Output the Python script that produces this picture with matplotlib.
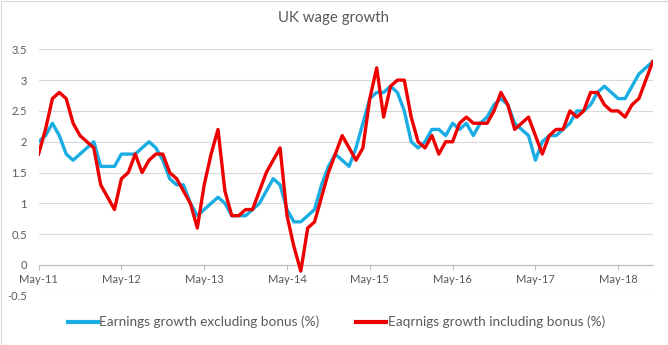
import matplotlib
matplotlib.use('Agg')
import matplotlib.pyplot as plt
from matplotlib.patches import Rectangle

# ---- data (monthly, May-11 .. Oct-18) ----
months = list(range(90))
tick_labels = ['May-11', 'May-12', 'May-13', 'May-14', 'May-15', 'May-16', 'May-17', 'May-18']
tick_months = [0, 12, 24, 36, 48, 60, 72, 84]

excl_bonus = [2.0, 2.1, 2.3, 2.1, 1.8, 1.7, 1.8, 1.9, 2.0, 1.6,
              1.6, 1.6, 1.8, 1.8, 1.8, 1.9, 2.0, 1.9, 1.7, 1.4,
              1.3, 1.3, 1.0, 0.8, 0.9, 1.0, 1.1, 1.0, 0.8, 0.8,
              0.8, 0.9, 1.0, 1.2, 1.4, 1.3, 0.9, 0.7, 0.7, 0.8,
              0.9, 1.3, 1.6, 1.8, 1.7, 1.6, 1.9, 2.3, 2.7, 2.8,
              2.8, 2.9, 2.8, 2.5, 2.0, 1.9, 2.0, 2.2, 2.2, 2.1,
              2.3, 2.2, 2.3, 2.1, 2.3, 2.4, 2.6, 2.7, 2.6, 2.3,
              2.2, 2.1, 1.7, 2.0, 2.1, 2.1, 2.2, 2.3, 2.5, 2.5,
              2.6, 2.8, 2.9, 2.8, 2.7, 2.7, 2.9, 3.1, 3.2, 3.3]

incl_bonus = [1.8, 2.2, 2.7, 2.8, 2.7, 2.3, 2.1, 2.0, 1.9, 1.3,
              1.1, 0.9, 1.4, 1.5, 1.8, 1.5, 1.7, 1.8, 1.8, 1.5,
              1.4, 1.2, 1.0, 0.6, 1.3, 1.8, 2.2, 1.2, 0.8, 0.8,
              0.9, 0.9, 1.2, 1.5, 1.7, 1.9, 0.8, 0.3, -0.1, 0.6,
              0.7, 1.1, 1.5, 1.8, 2.1, 1.9, 1.7, 1.9, 2.7, 3.2,
              2.4, 2.9, 3.0, 3.0, 2.4, 2.0, 1.9, 2.1, 1.8, 2.0,
              2.0, 2.3, 2.4, 2.3, 2.3, 2.3, 2.5, 2.8, 2.6, 2.2,
              2.3, 2.4, 2.1, 1.8, 2.1, 2.2, 2.2, 2.5, 2.4, 2.5,
              2.8, 2.8, 2.6, 2.5, 2.5, 2.4, 2.6, 2.7, 3.0, 3.3]

y_ticks = [-0.5, 0, 0.5, 1, 1.5, 2, 2.5, 3, 3.5]

plt.rcParams['font.family'] = ['Lato', 'DejaVu Sans']

fig = plt.figure(figsize=(6.68, 3.45), dpi=100)
ax = fig.add_axes([38.6 / 668, 1 - 295.8 / 345, (652.7 - 38.6) / 668, (295.8 - 49.3) / 345])

blue = '#1AADE4'
red = '#EE0000'
ax.plot(months, excl_bonus, color=blue, lw=2.4, solid_joinstyle='round', zorder=3,
        label='Earnings growth excluding bonus (%)')
ax.plot(months, incl_bonus, color=red, lw=2.4, solid_joinstyle='round', zorder=4,
        label='Eaqrnigs growth including bonus (%)')

ax.set_xlim(0, 89)
ax.set_ylim(-0.5, 3.5)
ax.set_yticks(y_ticks)
ax.set_yticklabels(['{:g}'.format(v) for v in y_ticks])
ax.set_xticks(tick_months)
ax.set_xticklabels(tick_labels)

ax.grid(axis='y', color='#d9d9d9', lw=0.8, zorder=0)
ax.set_axisbelow(True)
for s in ['top', 'right', 'left']:
    ax.spines[s].set_visible(False)
ax.spines['bottom'].set_position(('data', 0))
ax.spines['bottom'].set_color('#bfbfbf')
ax.spines['bottom'].set_linewidth(0.8)

ax.tick_params(axis='y', length=0, pad=8.5, labelsize=8, labelcolor='#595959')
ax.tick_params(axis='x', direction='out', length=3.6, width=0.8, color='#bfbfbf',
               pad=3.2, labelsize=8, labelcolor='#595959')

fig.text(0.5, 1 - 18 / 345, 'UK wage growth', ha='center', va='center',
         fontsize=10.8, color='#595959')

leg = fig.legend(loc='center', bbox_to_anchor=(336.5 / 668, 1 - 322 / 345), ncol=2,
                 frameon=False, fontsize=9.8, handlelength=2.2, handletextpad=0.12,
                 columnspacing=2.7, borderaxespad=0)
for h in leg.get_lines():
    h.set_linewidth(3)
for t in leg.get_texts():
    t.set_color('#595959')

fig.patches.append(Rectangle((0.5 / 668, 0.5 / 345), 1 - 1 / 668, 1 - 1 / 345,
                             transform=fig.transFigure, fill=False,
                             edgecolor='#d9d9d9', lw=0.8))

fig.savefig('out.png', dpi=100)
